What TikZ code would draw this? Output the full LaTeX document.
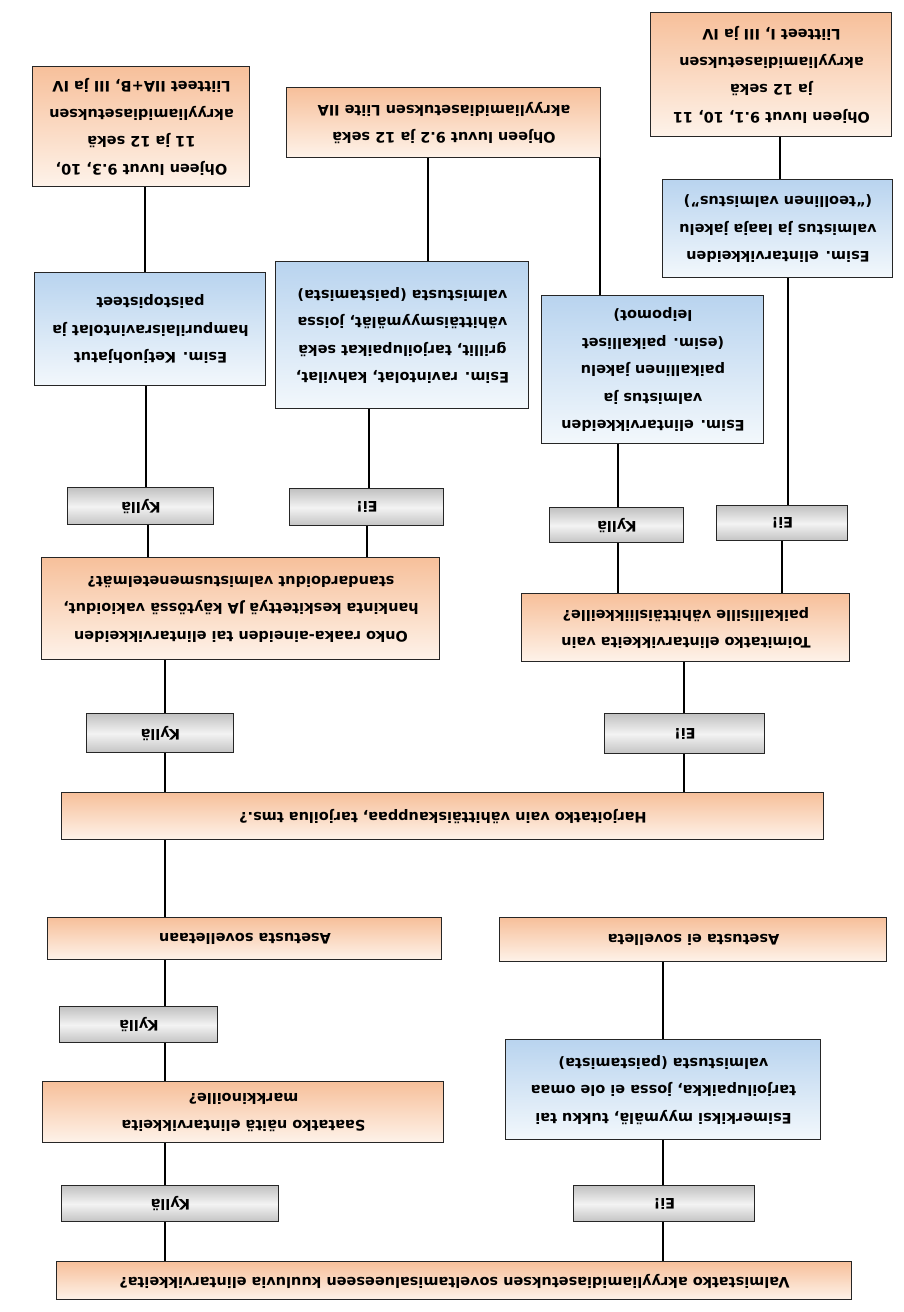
\documentclass[tikz,border=0pt]{standalone}
\usepackage{fontspec}
\setmainfont{DejaVu Sans}
\usetikzlibrary{arrows}
\pgfdeclarelayer{edgelayer}
\pgfdeclarelayer{nodelayer}
\pgfsetlayers{edgelayer,nodelayer,main}
\definecolor{peach}{HTML}{F7C09B}
\definecolor{peachlight}{HTML}{FEF3EA}
\definecolor{skyblue}{HTML}{B9D4EF}
\definecolor{skylight}{HTML}{F3F8FC}
\definecolor{greybox}{HTML}{C2C2C2}
\definecolor{greylight}{HTML}{F3F3F3}
\tikzset{
	box/.style={draw=black!85, line width=1pt, align=center, inner sep=2pt, font=\bfseries\fontsize{14.5}{27.5}\selectfont},
	question/.style={box, top color=peach, bottom color=peachlight},
	example/.style={box, top color=skyblue, bottom color=skylight},
	answer/.style={box, top color=greybox, bottom color=greybox, middle color=greylight},
	link/.style={line width=2pt},
}

\begin{document}
\begin{tikzpicture}[x=1pt, y=-1pt, rotate=180, transform shape]
	\useasboundingbox (0,0) rectangle (904,1312);
	\begin{pgfonlayer}{nodelayer}
		\node [style=question, minimum width=795pt, minimum height=38pt] (0) at (449.5, 31) {Valmistatko akryyliamidiasetuksen soveltamisalueeseen kuuluvia elintarvikkeita?};
		\node [style=answer, minimum width=217pt, minimum height=36pt] (1) at (733.5, 108) {Kyllä};
		\node [style=answer, minimum width=181pt, minimum height=36pt] (2) at (239.5, 108) {Ei!};
		\node [style=question, minimum width=401pt, minimum height=61pt] (3) at (660.5, 199.5) {Saatatko näitä elintarvikkeita\\markkinoille?};
		\node [style=example, minimum width=315pt, minimum height=100pt] (4) at (240.5, 222) {Esimerkiksi myymälä, tukku tai\\tarjoilupaikka, jossa ei ole omaa\\valmistusta (paistamista)};
		\node [style=answer, minimum width=158pt, minimum height=36pt] (5) at (765, 287) {Kyllä};
		\node [style=question, minimum width=394pt, minimum height=42pt] (6) at (659, 373) {Asetusta sovelletaan};
		\node [style=question, minimum width=387pt, minimum height=44pt] (7) at (210.5, 372) {Asetusta ei sovelleta};
		\node [style=question, minimum width=762pt, minimum height=47pt] (8) at (461, 495.5) {Harjoitatko vain vähittäiskauppaa, tarjoilua tms.?};
		\node [style=answer, minimum width=147pt, minimum height=39pt] (9) at (743.5, 578.5) {Kyllä};
		\node [style=answer, minimum width=160pt, minimum height=40pt] (10) at (219, 578) {Ei!};
		\node [style=question, minimum width=398pt, minimum height=102pt] (11) at (663, 703) {Onko raaka-aineiden tai elintarvikkeiden\\hankinta keskitettyä JA käytössä vakioidut,\\standardoidut valmistusmenetelmät?};
		\node [style=question, minimum width=328pt, minimum height=68pt] (12) at (218, 684) {Toimitatko elintarvikkeita vain\\paikallisille vähittäisliikkeille?};
		\node [style=answer, minimum width=146pt, minimum height=37pt] (13) at (763, 805.5) {Kyllä};
		\node [style=answer, minimum width=154pt, minimum height=37pt] (14) at (537, 804.5) {Ei!};
		\node [style=answer, minimum width=134pt, minimum height=35pt] (15) at (287, 786.5) {Kyllä};
		\node [style=answer, minimum width=131pt, minimum height=35pt] (16) at (121.5, 788.5) {Ei!};
		\node [style=example, minimum width=231pt, minimum height=113pt] (17) at (753.5, 982.5) {Esim. Ketjuohjatut\\hampurilaisravintolat ja\\paistopisteet};
		\node [style=example, minimum width=253pt, minimum height=147pt] (18) at (501.5, 976.5) {Esim. ravintolat, kahvilat,\\grillit, tarjoilupaikat sekä\\vähittäismyymälät, joissa\\valmistusta (paistamista)};
		\node [style=example, minimum width=222pt, minimum height=148pt] (19) at (251, 942) {Esim. elintarvikkeiden\\valmistus ja\\paikallinen jakelu\\(esim. paikalliset\\leipomot)};
		\node [style=example, minimum width=230pt, minimum height=98pt] (20) at (126, 1083) {Esim. elintarvikkeiden\\valmistus ja laaja jakelu\\(“teollinen valmistus”)};
		\node [style=question, minimum width=217pt, minimum height=120pt] (21) at (762.5, 1185) {Ohjeen luvut 9.3, 10,\\11 ja 12 sekä\\akryyliamidiasetuksen\\Liitteet IIA+B, III ja IV};
		\node [style=question, minimum width=314pt, minimum height=70pt] (22) at (460, 1189) {Ohjeen luvut 9.2 ja 12 sekä\\akryyliamidiasetuksen Liite IIA};
		\node [style=question, minimum width=241pt, minimum height=124pt] (23) at (132.5, 1237) {Ohjeen luvut 9.1, 10, 11\\ja 12 sekä\\akryyliamidiasetuksen\\Liitteet I, III ja IV};
	\end{pgfonlayer}
	\begin{pgfonlayer}{edgelayer}
		\fill [white] (0,0) rectangle (904,1312);
		\draw [style=link] (0.south -| 739,0) to (1.north -| 739,0);
		\draw [style=link] (0.south -| 241,0) to (2.north -| 241,0);
		\draw [style=link] (1.south -| 739,0) to (3.north -| 739,0);
		\draw [style=link] (3.south -| 739,0) to (5.north -| 739,0);
		\draw [style=link] (5.south -| 739,0) to (6.north -| 739,0);
		\draw [style=link] (6.south -| 739,0) to (8.north -| 739,0);
		\draw [style=link] (2.south -| 241,0) to (4.north -| 241,0);
		\draw [style=link] (4.south -| 241,0) to (7.north -| 241,0);
		\draw [style=link] (8.south -| 739,0) to (9.north -| 739,0);
		\draw [style=link] (8.south -| 220,0) to (10.north -| 220,0);
		\draw [style=link] (9.south -| 739,0) to (11.north -| 739,0);
		\draw [style=link] (10.south -| 220,0) to (12.north -| 220,0);
		\draw [style=link] (11.south -| 756,0) to (13.north -| 756,0);
		\draw [style=link] (11.south -| 537,0) to (14.north -| 537,0);
		\draw [style=link] (13.south -| 758,0) to (17.north -| 758,0);
		\draw [style=link] (17.south -| 759,0) to (21.north -| 759,0);
		\draw [style=link] (14.south -| 535,0) to (18.north -| 535,0);
		\draw [style=link] (18.south -| 476,0) to (22.north -| 476,0);
		\draw [style=link] (12.south -| 286,0) to (15.north -| 286,0);
		\draw [style=link] (12.south -| 122,0) to (16.north -| 122,0);
		\draw [style=link] (15.south -| 286,0) to (19.north -| 286,0);
		\draw [style=link] (19.south -| 304,0) to (22.north -| 304,0);
		\draw [style=link] (16.south -| 116,0) to (20.north -| 116,0);
		\draw [style=link] (20.south -| 124,0) to (23.north -| 124,0);
	\end{pgfonlayer}
\end{tikzpicture}
\end{document}
